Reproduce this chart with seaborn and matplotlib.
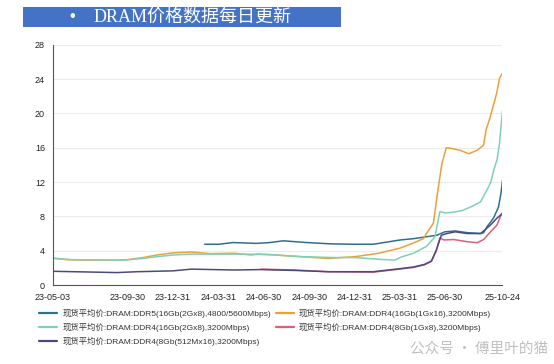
import matplotlib
matplotlib.use("Agg")
import matplotlib.pyplot as plt
from matplotlib.patches import Rectangle
import pandas as pd
import seaborn as sns

# ── 数据 ──
names = [
    "现货平均价:DRAM:DDR5(16Gb(2Gx8),4800/5600Mbps)",
    "现货平均价:DRAM:DDR4(16Gb(1Gx16),3200Mbps)",
    "现货平均价:DRAM:DDR4(16Gb(2Gx8),3200Mbps)",
    "现货平均价:DRAM:DDR4(8Gb(1Gx8),3200Mbps)",
    "现货平均价:DRAM:DDR4(8Gb(512Mx16),3200Mbps)",
]
colors = ["#2f6f93", "#e9a23b", "#7fd1b6", "#d9607a", "#4b4a80"]

ddr5_dates = ["2024-03-04", "2024-04-01", "2024-04-30", "2024-06-16", "2024-07-13",
              "2024-08-09", "2024-09-25", "2024-11-11", "2024-12-29", "2025-02-06",
              "2025-03-05", "2025-04-01", "2025-04-28", "2025-06-14", "2025-06-30",
              "2025-07-21", "2025-08-14", "2025-09-10", "2025-09-16", "2025-09-23",
              "2025-10-06", "2025-10-16", "2025-10-21", "2025-10-24"]
ddr5_vals = [4.75, 4.75, 4.95, 4.85, 4.95, 5.15, 4.95, 4.8, 4.75, 4.75,
             5.0, 5.25, 5.4, 5.8, 6.2, 6.3, 6.1, 6.0, 6.1, 6.8,
             7.8, 9.1, 10.7, 12.2]

d4_1gx16_dates = ["2023-05-03", "2023-06-01", "2023-07-15", "2023-09-01", "2023-09-30",
                  "2023-11-01", "2023-11-29", "2024-01-01", "2024-02-06", "2024-03-16",
                  "2024-05-02", "2024-06-05", "2024-06-19", "2024-07-23", "2024-09-15",
                  "2024-11-07", "2024-12-31", "2025-02-17", "2025-04-01", "2025-04-28",
                  "2025-05-18", "2025-05-24", "2025-06-07", "2025-06-17", "2025-06-24",
                  "2025-07-03", "2025-07-15", "2025-07-31", "2025-08-17", "2025-09-03",
                  "2025-09-16", "2025-09-21", "2025-09-29", "2025-10-06", "2025-10-13",
                  "2025-10-18", "2025-10-24"]
d4_1gx16_vals = [3.15, 2.95, 2.9, 2.9, 2.95, 3.2, 3.5, 3.75, 3.85, 3.65,
                 3.7, 3.5, 3.6, 3.5, 3.3, 3.1, 3.3, 3.7, 4.3, 4.9,
                 5.4, 6.0, 7.2, 11.4, 14.1, 16.0, 15.9, 15.7, 15.3, 15.7,
                 16.3, 18.1, 19.5, 21.0, 22.5, 24.1, 24.7]

d4_2gx8_dates = ["2023-05-03", "2023-06-14", "2023-09-23", "2023-11-01", "2023-11-29",
                 "2024-01-01", "2024-02-03", "2024-04-01", "2024-06-01", "2024-07-13",
                 "2024-09-15", "2024-11-19", "2024-12-31", "2025-02-17", "2025-03-21",
                 "2025-04-05", "2025-04-28", "2025-05-24", "2025-06-10", "2025-06-20",
                 "2025-07-01", "2025-07-19", "2025-08-05", "2025-08-25", "2025-09-10",
                 "2025-09-22", "2025-09-30", "2025-10-07", "2025-10-13", "2025-10-18",
                 "2025-10-24"]
d4_2gx8_vals = [3.1, 2.95, 2.9, 3.1, 3.3, 3.5, 3.6, 3.6, 3.6, 3.55,
                3.3, 3.2, 3.2, 3.0, 2.9, 3.3, 3.7, 4.5, 5.6, 8.55,
                8.4, 8.5, 8.7, 9.2, 9.7, 11.0, 11.9, 13.5, 14.6, 16.5,
                20.3]

d4_1gx8_dates = ["2024-06-25", "2024-09-01", "2024-11-07", "2025-02-06", "2025-03-31",
                 "2025-04-28", "2025-05-20", "2025-06-03", "2025-06-13", "2025-06-20",
                 "2025-06-28", "2025-07-18", "2025-08-14", "2025-09-03", "2025-09-16",
                 "2025-09-30", "2025-10-13", "2025-10-21", "2025-10-24"]
d4_1gx8_vals = [1.85, 1.75, 1.55, 1.5, 1.85, 2.05, 2.35, 2.75, 4.0, 5.5,
                5.25, 5.3, 5.05, 4.93, 5.3, 6.2, 7.0, 8.15, 8.4]

d4_512_dates = ["2023-05-03", "2023-06-15", "2023-09-09", "2023-10-20", "2023-12-31",
                "2024-02-06", "2024-05-02", "2024-06-25", "2024-09-01", "2024-11-07",
                "2025-02-06", "2025-03-31", "2025-04-28", "2025-05-20", "2025-06-03",
                "2025-06-13", "2025-06-23", "2025-07-04", "2025-07-21", "2025-08-14",
                "2025-09-10", "2025-09-30", "2025-10-13", "2025-10-24"]
d4_512_vals = [1.6, 1.55, 1.45, 1.55, 1.65, 1.85, 1.75, 1.8, 1.7, 1.55,
               1.55, 1.9, 2.1, 2.4, 2.8, 4.1, 5.8, 6.0, 6.2, 6.0,
               6.0, 7.0, 7.8, 8.35]

tick_dates = ["2023-05-03", "2023-06-30", "2023-09-30", "2023-12-31", "2024-03-31",
              "2024-06-30", "2024-09-30", "2024-12-31", "2025-03-31", "2025-06-30",
              "2025-09-30", "2025-10-24"]
tick_labels = ["23-05-03", "", "23-09-30", "23-12-31", "24-03-31", "24-06-30",
               "24-09-30", "24-12-31", "25-03-31", "25-06-30", "", "25-10-24"]

# ── 整理成长表 ──
frames = []
for nm, ds, vs in zip(names,
                      [ddr5_dates, d4_1gx16_dates, d4_2gx8_dates, d4_1gx8_dates, d4_512_dates],
                      [ddr5_vals, d4_1gx16_vals, d4_2gx8_vals, d4_1gx8_vals, d4_512_vals]):
    frames.append(pd.DataFrame({"date": pd.to_datetime(ds), "value": vs, "series": nm}))
df = pd.concat(frames, ignore_index=True)

# ── 画图 ──
sns.set_style("white")
plt.rcParams['font.family'] = ['Liberation Sans', 'Noto Sans CJK SC', 'DejaVu Sans']

fig = plt.figure(figsize=(5.54, 3.64), dpi=100)
ax = fig.add_axes([0.095, 0.217, 0.812, 0.66])

sns.lineplot(data=df, x="date", y="value", hue="series", hue_order=names,
             palette=colors, estimator=None, linewidth=1.1, legend=False, ax=ax)

ax.set_ylim(0, 28)
ax.set_yticks(range(0, 29, 4))
ax.set_xlim(pd.Timestamp("2023-05-03"), pd.Timestamp("2025-10-24"))
ax.set_xticks(pd.to_datetime(tick_dates))
ax.set_xticklabels(tick_labels)
ax.set_xlabel("")
ax.set_ylabel("")

ax.yaxis.grid(True, color="#ececec", linewidth=0.8)
ax.set_axisbelow(True)
for s in ["top", "right"]:
    ax.spines[s].set_visible(False)
for s in ["left", "bottom"]:
    ax.spines[s].set_color("#555555")
    ax.spines[s].set_linewidth(0.8)
ax.tick_params(axis="both", length=4, width=0.8, color="#555555",
               labelsize=6.5, labelcolor="#222222", pad=1.5)

# 图例：按行排列（matplotlib 按列填充，所以重排一下）
order = [0, 2, 4, 1, 3]
handles = [plt.Line2D([], [], color=colors[i], linewidth=1.6) for i in order]
labels = [names[i] for i in order]
fig.legend(handles, labels, loc="upper left", bbox_to_anchor=(0.07, 1 - 309 / 364),
           ncol=2, frameon=False, fontsize=6, handlelength=2.2,
           handletextpad=0.6, columnspacing=0.6, labelspacing=0.6,
           labelcolor="#333333", borderaxespad=0, borderpad=0)

# 标题条
fig.patches.append(Rectangle((23 / 554, 1 - 27 / 364), 318 / 554, 20 / 364,
                             transform=fig.transFigure, facecolor="#4472c4",
                             edgecolor="none"))
fig.text(72 / 554, 1 - 17 / 364, "•", color="white", fontsize=12,
         va="center", ha="center")
fig.text(94 / 554, 1 - 17 / 364, "DRAM价格数据每日更新", color="white", fontsize=13,
         va="center", ha="left", family=["Liberation Serif", "Noto Sans CJK SC"])

# 水印
fig.text(410 / 554, 1 - 349 / 364, "公众号 · 傅里叶的猫", color="#b0b0b0",
         fontsize=10.5, alpha=0.8, va="center", ha="left",
         family=["Noto Sans CJK SC", "DejaVu Sans"])

plt.savefig("out.png", dpi=100)
